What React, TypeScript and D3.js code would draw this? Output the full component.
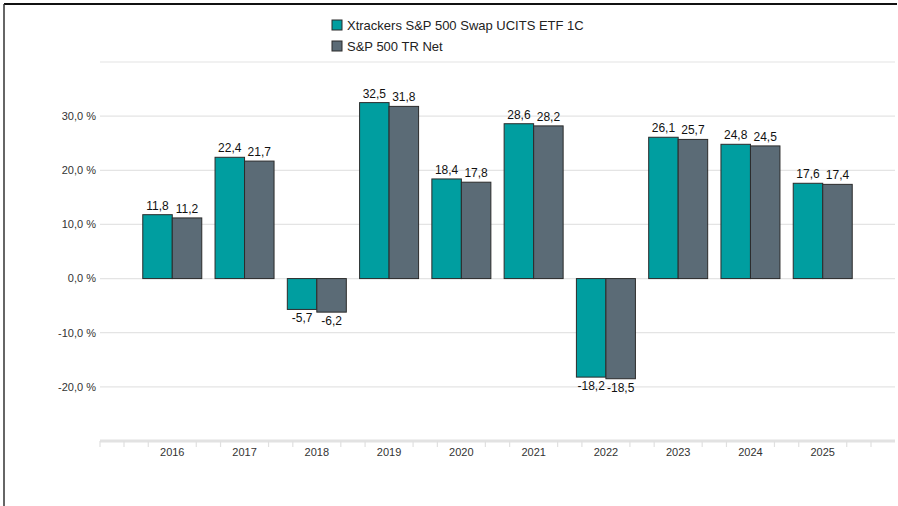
import React from "react"
import * as d3 from "d3"

const years = ["2016", "2017", "2018", "2019", "2020", "2021", "2022", "2023", "2024", "2025"]
const fundValues = [11.8, 22.4, -5.7, 32.5, 18.4, 28.6, -18.2, 26.1, 24.8, 17.6]
const indexValues = [11.2, 21.7, -6.2, 31.8, 17.8, 28.2, -18.5, 25.7, 24.5, 17.4]
const seriesNames = ["Xtrackers S&P 500 Swap UCITS ETF 1C", "S&P 500 TR Net"]
const seriesColors = ["#009ea0", "#5b6b76"]
const labelledTicks = [30, 20, 10, 0, -10, -20]
const gridTicks = [40, 30, 20, 10, 0, -10, -20]

const width = 898
const height = 506
const left = 100
const right = 895
const top = 62
const bottom = 441

export default function App() {
  // empty slots at both ends so the years sit one step in from the axis ends
  const slots = ["_start", ...years, "_end"]
  const x = d3.scalePoint<string>().domain(slots).range([left, right])
  const y = d3.scaleLinear().domain([-30, 40]).range([bottom, top])
  const barW = 29.5
  const fmt = (v: number) => v.toFixed(1).replace(".", ",")
  const series = [fundValues, indexValues]

  return (
    <svg
      width={width}
      height={height}
      style={{ position: "absolute", left: 0, top: 0, fontFamily: "Liberation Sans, Arial, sans-serif" }}
    >
      <rect width={width} height={height} fill="#fff" />
      <line x1={4} x2={897} y1={4} y2={4} stroke="#111" strokeWidth={2} />
      <line x1={4} x2={4} y1={4} y2={height} stroke="#333" strokeWidth={1.5} />

      {gridTicks.map((t) => (
        <line key={t} x1={left} x2={right} y1={y(t)} y2={y(t)} stroke="#e4e4e4" strokeWidth={1.2} />
      ))}
      {labelledTicks.map((t) => (
        <text key={t} x={96} y={y(t)} dy="0.35em" textAnchor="end" fontSize={11} fill="#333">
          {fmt(t) + " %"}
        </text>
      ))}

      <line x1={left} x2={right} y1={bottom} y2={bottom} stroke="#e2e2e2" strokeWidth={3} />
      {slots.map((s) =>
        [-24, 24].map((o) => {
          const tx = (x(s) as number) + o
          if (tx < left - 1 || tx > right + 1) return null
          return <line key={s + o} x1={tx} x2={tx} y1={bottom} y2={bottom + 6} stroke="#e0e0e0" strokeWidth={1.2} />
        })
      )}
      <line x1={left} x2={left} y1={bottom} y2={bottom + 6} stroke="#e0e0e0" strokeWidth={1.2} />
      {years.map((yr) => (
        <text key={yr} x={x(yr)} y={bottom + 11} dy="0.35em" textAnchor="middle" fontSize={11} fill="#333">
          {yr}
        </text>
      ))}

      {series.map((vals, si) =>
        vals.map((v, i) => {
          const cx = (x(years[i]) as number) + (si === 0 ? -barW : 0)
          const y0 = y(0)
          const yv = y(v)
          return (
            <g key={si + "-" + i}>
              <rect
                x={cx}
                y={Math.min(y0, yv)}
                width={barW}
                height={Math.abs(yv - y0)}
                fill={seriesColors[si]}
                stroke="#2b2b2b"
                strokeWidth={1}
              />
              <text
                x={cx + barW / 2}
                y={v >= 0 ? yv - 5 : yv + 13}
                textAnchor="middle"
                fontSize={12}
                fill="#111"
              >
                {fmt(v)}
              </text>
            </g>
          )
        })
      )}

      {seriesNames.map((n, i) => (
        <g key={n} transform={`translate(332,${20 + i * 21})`}>
          <rect width={10} height={10} fill={seriesColors[i]} stroke="#2b2b2b" strokeWidth={1} />
          <text x={15} y={5} dy="0.35em" fontSize={13} fill="#222">
            {n}
          </text>
        </g>
      ))}
    </svg>
  )
}
